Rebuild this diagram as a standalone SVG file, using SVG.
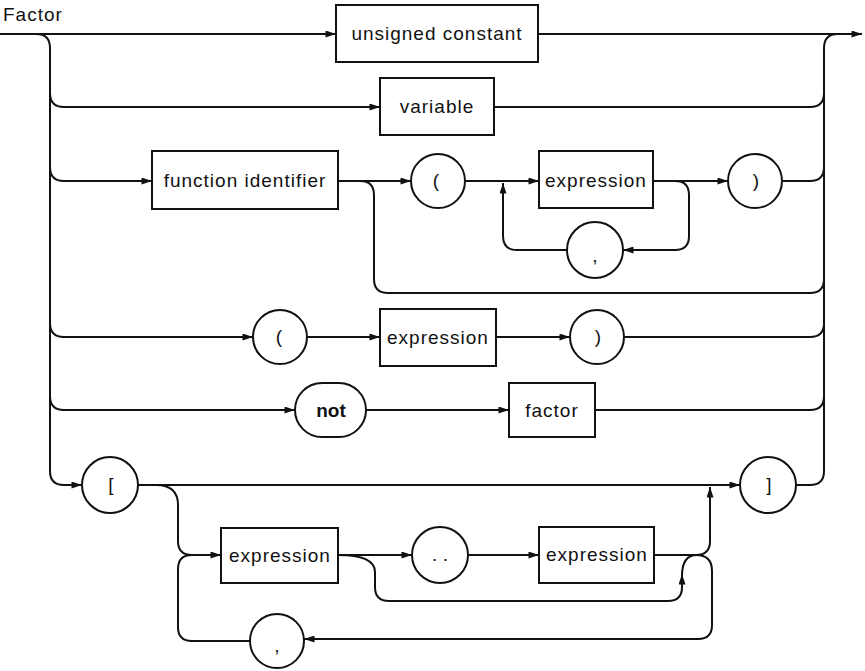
<svg xmlns="http://www.w3.org/2000/svg" width="865" height="671" viewBox="0 0 865 671">
<defs>
<marker id="ah" viewBox="0 0 12 8" refX="12" refY="4" markerWidth="12" markerHeight="7" markerUnits="userSpaceOnUse" orient="auto">
<path d="M0,0 L12,4 L0,8 z" fill="#111"/>
</marker>
<style>
.c{fill:none;stroke:#111;stroke-width:2}
.a{marker-end:url(#ah)}
.n{fill:#fff;stroke:#111;stroke-width:2}
.t{font-family:"Liberation Sans",Arial,sans-serif;font-size:19px;letter-spacing:1px;fill:#111;text-anchor:middle}
.s{font-family:"Liberation Sans",Arial,sans-serif;font-size:19px;fill:#111;text-anchor:middle}
</style>
</defs>
<rect width="865" height="671" fill="#fff"/>
<text x="3" y="21" style="font-family:'Liberation Sans',Arial,sans-serif;font-size:19px;letter-spacing:1px;fill:#111">Factor</text>

<g id="connectors">
<path class="c a" d="M0,34 L336,34"/>
<path class="c a" d="M538,34 L862,34"/>
<path class="c a" d="M36,34 Q50,34 50,48 L50,471 Q50,485 64,485 L82,485"/>
<path class="c a" d="M50,93 Q50,107 64,107 L380,107"/>
<path class="c a" d="M50,167 Q50,181 64,181 L152,181"/>
<path class="c a" d="M50,323 Q50,337 64,337 L253,337"/>
<path class="c a" d="M50,396 Q50,410 64,410 L295,410"/>
<path class="c" d="M796,485 L810,485 Q824,485 824,471 L824,48 Q824,34 838,34"/>
<path class="c" d="M494,107 L810,107 Q824,107 824,93"/>
<path class="c" d="M783,181 L810,181 Q824,181 824,167"/>
<path class="c" d="M338,181 L360,181 Q374,181 374,195 L374,279 Q374,293 388,293 L810,293 Q824,293 824,279"/>
<path class="c" d="M624,337 L810,337 Q824,337 824,323"/>
<path class="c" d="M595,410 L810,410 Q824,410 824,396"/>
<path class="c a" d="M338,181 L411,181"/>
<path class="c a" d="M465,181 L539,181"/>
<path class="c a" d="M653,181 L728,181"/>
<path class="c a" d="M653,181 L675,181 Q689,181 689,195 L689,236 Q689,250 675,250 L623,250"/>
<path class="c a" d="M567,250 L517,250 Q503,250 503,236 L503,183"/>
<path class="c a" d="M307,337 L380,337"/>
<path class="c a" d="M496,337 L570,337"/>
<path class="c a" d="M366,410 L509,410"/>
<path class="c a" d="M138,485 L740,485"/>
<path class="c a" d="M156,485 Q178,485 178,505 L178,541 Q178,555 192,555 L221,555"/>
<path class="c" d="M251,641 L192,641 Q178,641 178,627 L178,569 Q178,555 192,555"/>
<path class="c a" d="M338,555 L412,555"/>
<path class="c a" d="M468,555 L539,555"/>
<path class="c a" d="M338,555 Q375,555 375,572 L375,587 Q375,601 389,601 L668,601 Q682,601 682,587 L682,574"/>
<path class="c" d="M682,576 Q682,555 697,555"/>
<path class="c a" d="M654,555 L696,555 Q710,555 710,541 L710,487"/>
<path class="c a" d="M696,555 Q712,555 712,571 L712,625 Q712,639 698,639 L304,639"/>
</g>

<g id="n-unsigned-constant"><rect class="n" x="336" y="5" width="202" height="57"/><text class="t" x="437" y="40">unsigned constant</text></g>
<g id="n-variable"><rect class="n" x="380" y="78" width="114" height="57"/><text class="t" x="437" y="113">variable</text></g>
<g id="n-function-identifier"><rect class="n" x="152" y="151" width="186" height="58"/><text class="t" x="245" y="187">function identifier</text></g>
<g id="n-lparen1"><circle class="n" cx="438" cy="181" r="27"/><text class="s" x="436" y="187">(</text></g>
<g id="n-expression1"><rect class="n" x="539" y="151" width="114" height="57"/><text class="t" x="596" y="187">expression</text></g>
<g id="n-comma1"><circle class="n" cx="595" cy="250" r="28"/><text class="s" x="595" y="262">,</text></g>
<g id="n-rparen1"><circle class="n" cx="755" cy="181" r="27"/><text class="s" x="756" y="187">)</text></g>
<g id="n-lparen2"><circle class="n" cx="280" cy="337" r="27"/><text class="s" x="279" y="343">(</text></g>
<g id="n-expression2"><rect class="n" x="380" y="309" width="116" height="57"/><text class="t" x="438" y="344">expression</text></g>
<g id="n-rparen2"><circle class="n" cx="597" cy="337" r="27"/><text class="s" x="598" y="343">)</text></g>
<g id="n-not"><rect class="n" x="295" y="383" width="71" height="54" rx="27" ry="27"/><text class="s" x="331" y="417" font-weight="bold">not</text></g>
<g id="n-factor"><rect class="n" x="509" y="383" width="86" height="54"/><text class="t" x="552" y="417">factor</text></g>
<g id="n-lbracket"><circle class="n" cx="110" cy="485" r="28"/><text class="s" x="111" y="491">[</text></g>
<g id="n-rbracket"><circle class="n" cx="768" cy="485" r="28"/><text class="s" x="769" y="491">]</text></g>
<g id="n-expression3"><rect class="n" x="221" y="528" width="117" height="55"/><text class="t" x="280" y="562">expression</text></g>
<g id="n-dotdot"><circle class="n" cx="440" cy="555" r="28"/><text class="s" x="440" y="561">. .</text></g>
<g id="n-expression4"><rect class="n" x="539" y="527" width="115" height="56"/><text class="t" x="597" y="561">expression</text></g>
<g id="n-comma2"><circle class="n" cx="277" cy="641" r="27"/><text class="s" x="277" y="652">,</text></g>
</svg>
